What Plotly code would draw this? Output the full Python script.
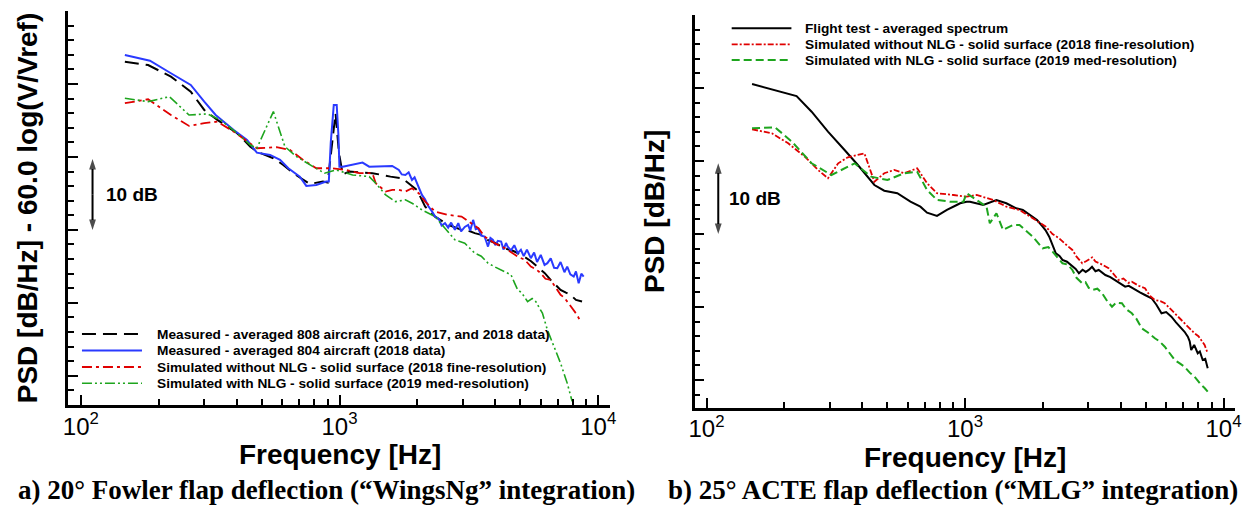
import plotly.graph_objects as go

# ---------------- data: panel a (20 deg Fowler flap) ----------------
a_808_f = [148, 182, 223, 266, 300, 337, 402, 452, 479, 555, 606, 662, 767, 862, 900, 935, 965, 995, 1029,
           1091, 1227, 1340, 1463, 1574, 1746, 1852, 1992, 2143, 2340, 2634, 2962, 3150, 3330, 3532, 3750,
           4000, 4337, 4700, 5172, 5500, 5821, 6200, 6546, 6900, 7149, 7500, 7808, 8200, 8656]
a_808_db = [53.05, 52.6, 51.0, 48.95, 46.44, 45.07, 43.25, 41.41, 40.73, 39.82, 38.9, 37.77, 36.3, 36.62, 36.5,
            42.0, 45.99, 40.5, 37.6, 37.99, 37.85, 37.77, 37.53, 37.3, 37.08, 36.4, 35.48, 33.19, 31.82, 30.68,
            30.0, 29.9, 29.55, 29.32, 28.6, 28.2, 27.49, 27.1, 26.34, 25.7, 24.97, 24.1, 23.15, 22.4, 21.78,
            21.4, 21.1, 20.4, 20.18]

a_804_f = [148, 185, 223, 266, 300, 332, 390, 439, 479, 539, 589, 634, 702, 744, 813, 888, 909, 925, 950, 975,
           990, 999, 1029, 1123, 1227, 1302, 1421, 1507, 1598, 1695, 1740, 1797, 1850, 1906, 1950, 1992, 2040,
           2082, 2140, 2208, 2270, 2340, 2420, 2480, 2556, 2630, 2700, 2792, 2877, 2950, 3048, 3141, 3200,
           3283, 3360, 3431, 3530, 3637, 3700, 3748, 3830, 3916, 4000, 4093, 4213, 4300, 4400, 4467, 4600,
           4737, 4881, 5024, 5150, 5300, 5488, 5650, 5800, 5993, 6200, 6358, 6550, 6750, 6944, 7150, 7400,
           7585, 7800, 8036, 8200, 8400, 8600, 8780]
a_804_db = [53.97, 53.19, 51.47, 49.86, 47.58, 45.75, 43.7, 42.33, 40.59, 40.27, 39.59, 38.45, 37.3, 36.03,
            36.16, 36.62, 36.62, 42.0, 47.12, 47.12, 43.0, 38.67, 38.67, 38.9, 39.22, 38.67, 38.67, 38.77,
            38.77, 38.22, 37.6, 37.53, 37.9, 36.85, 37.2, 36.4, 35.5, 34.79, 34.2, 33.19, 32.6, 31.82, 31.5,
            30.6, 30.92, 30.3, 31.0, 30.0, 30.92, 29.8, 30.4, 30.68, 29.9, 31.37, 30.1, 30.23, 29.2, 29.08,
            28.3, 27.71, 28.9, 28.63, 27.9, 28.5, 28.4, 27.3, 28.2, 27.71, 27.2, 27.9, 26.8, 27.26, 26.4,
            27.3, 26.12, 26.9, 25.6, 26.58, 25.2, 25.44, 26.1, 24.8, 24.75, 25.6, 24.2, 24.97, 23.9, 23.6,
            24.3, 22.7, 24.0, 23.6]

a_sim_nonlg_f = [148, 182, 223, 262, 300, 337, 390, 439, 479, 571, 643, 723, 813, 942, 1056, 1192, 1340, 1380,
                 1507, 1598, 1695, 1797, 1906, 2022, 2143, 2340, 2634, 2962, 3235, 3450, 3637, 3972, 4300,
                 4467, 4881, 5200, 5488, 5750, 5993, 6250, 6546, 6850, 7149, 7400, 7585, 7800, 8036, 8300, 8527]
a_sim_nonlg_db = [47.36, 47.9, 45.75, 44.25, 44.62, 44.84, 43.47, 42.1, 41.19, 41.33, 40.96, 39.59, 38.45,
                  38.45, 38.22, 37.77, 37.77, 36.4, 35.25, 35.48, 35.48, 35.25, 35.71, 35.03, 33.88, 32.51,
                  32.05, 31.82, 30.92, 30.2, 29.08, 28.18, 27.6, 27.26, 26.34, 25.9, 24.97, 24.6, 24.07, 23.3,
                  23.15, 22.0, 21.1, 20.7, 20.18, 19.6, 19.04, 18.3, 17.44]

a_sim_nlg_f = [148, 182, 220, 262, 308, 347, 402, 452, 479, 555, 615, 682, 790, 875, 970, 1123, 1302, 1380,
               1507, 1645, 1797, 1906, 2082, 2340, 2556, 2792, 3048, 3330, 3530, 3748, 4000, 4213, 4400, 4601,
               4750, 4881, 5050, 5330, 5550, 5735, 5900, 6083, 6358, 6740, 7149, 7585, 7925]
a_sim_nlg_db = [48.04, 47.58, 48.26, 45.75, 45.89, 45.07, 43.25, 41.64, 41.19, 46.21, 41.41, 40.04, 38.67,
                37.77, 38.22, 37.53, 37.3, 36.4, 34.79, 33.88, 34.11, 33.66, 32.74, 31.82, 30.23, 28.63,
                28.18, 26.81, 26.4, 25.44, 24.9, 24.52, 24.2, 23.84, 22.7, 21.78, 21.4, 20.18, 20.6, 20.18,
                19.4, 18.59, 16.3, 14.01, 11.74, 9.0, 6.5]

# ---------------- data: panel b (25 deg ACTE flap) ----------------
b_flight_f = [150, 223, 255, 295, 342, 385, 446, 487, 547, 615, 672, 713, 779, 851, 929, 957, 1015, 1045,
              1176, 1323, 1445, 1578, 1674, 1828, 1900, 1997, 2050, 2117, 2180, 2246, 2320, 2382, 2480, 2602,
              2680, 2758, 2850, 2930, 3012, 3100, 3196, 3290, 3400, 3491, 3650, 3813, 3950, 4165, 4300, 4550,
              4750, 4969, 5100, 5270, 5500, 5756, 6000, 6288, 6550, 6867, 7069, 7278, 7400, 7499, 7700, 7950,
              8100, 8308, 8500, 8687]
b_flight_db = [50.55, 48.9, 46.75, 44.01, 41.51, 39.45, 36.71, 35.93, 35.58, 34.42, 33.74, 32.92, 32.47,
               33.29, 33.97, 34.21, 34.42, 34.42, 33.97, 34.66, 34.21, 33.52, 33.29, 32.37, 31.9, 31.0, 30.5,
               29.63, 28.5, 27.36, 27.0, 26.44, 26.2, 25.52, 25.2, 24.62, 25.1, 24.8, 25.07, 25.5, 24.9,
               25.07, 24.7, 24.38, 24.1, 23.7, 23.3, 22.78, 22.9, 22.33, 22.0, 21.64, 21.4, 21.19, 20.3,
               19.14, 19.3, 18.67, 17.9, 17.08, 16.6, 15.93, 15.3, 14.11, 14.8, 13.66, 13.9, 12.74, 12.9, 11.6]

b_sim_nonlg_f = [150, 179, 207, 240, 270, 295, 323, 352, 408, 446, 487, 532, 581, 653, 713, 779, 903, 1015,
                 1109, 1285, 1445, 1625, 1828, 1950, 2056, 2180, 2312, 2450, 2602, 2700, 2842, 2950, 3105,
                 3196, 3350, 3594, 3750, 3926, 4100, 4289, 4419, 4700, 4969, 5200, 5426, 5700, 5927, 6200,
                 6473, 6800, 7069, 7400, 7721, 8000, 8192, 8450, 8687]
b_sim_nonlg_db = [44.34, 43.79, 42.42, 40.59, 38.77, 37.63, 39.68, 40.51, 41.05, 37.16, 38.32, 38.77, 38.32,
                  39.0, 36.95, 35.58, 35.34, 35.11, 35.34, 34.66, 33.74, 33.29, 32.15, 31.5, 31.0, 30.0,
                  29.41, 28.6, 27.81, 26.9, 25.99, 26.3, 26.8, 26.21, 25.9, 25.3, 24.5, 23.7, 23.9, 23.3,
                  23.47, 22.9, 22.56, 21.5, 20.96, 20.8, 20.51, 19.8, 19.14, 18.4, 17.77, 17.0, 16.4, 16.0,
                  15.48, 14.8, 13.66]

b_sim_nlg_f = [150, 184, 214, 255, 304, 374, 433, 501, 581, 653, 713, 779, 876, 986, 1015, 1109, 1211, 1247,
               1323, 1403, 1532, 1625, 1828, 1997, 2100, 2181, 2300, 2382, 2500, 2602, 2700, 2842, 2926, 3012,
               3105, 3250, 3390, 3550, 3704, 3850, 4046, 4200, 4419, 4600, 4826, 5100, 5426, 5650, 5927, 6200,
               6473, 6750, 7069, 7400, 7721, 7950, 8192, 8450, 8687]
b_sim_nlg_db = [44.48, 44.62, 42.64, 39.68, 38.08, 39.68, 37.85, 37.4, 38.32, 38.53, 36.03, 34.66, 34.42,
                34.42, 35.58, 34.66, 33.74, 31.47, 32.84, 30.55, 31.23, 31.23, 29.63, 28.04, 28.2, 27.58,
                26.6, 25.99, 25.8, 25.07, 24.0, 23.25, 23.4, 22.6, 22.33, 22.5, 21.88, 20.8, 20.04, 20.6,
                20.51, 19.7, 19.14, 18.4, 17.08, 16.5, 15.71, 15.3, 14.56, 13.6, 12.74, 12.3, 11.82, 11.0,
                10.45, 9.9, 9.32, 8.9, 8.4]

# 10 dB scale bar: centre -> bottom tip, gap, centre -> top tip
scale_f = [111, 111, None, 111, 111]
scale_db = [34.8, 30.0, None, 34.8, 39.7]

a_labels = ["Measured - averaged 808 aircraft (2016, 2017, and 2018 data)",
            "Measured - averaged 804 aircraft (2018 data)",
            "Simulated without NLG - solid surface (2018 fine-resolution)",
            "Simulated with NLG - solid surface (2019 med-resolution)"]
b_labels = ["Flight test - averaged spectrum",
            "Simulated without NLG - solid surface (2018 fine-resolution)",
            "Simulated with NLG - solid surface (2019 med-resolution)"]
x_tickvals = [100, 1000, 10000]
x_ticktext = ["10<sup>2</sup>", "10<sup>3</sup>", "10<sup>4</sup>"]
x_title = "Frequency [Hz]"
y_titles = ["PSD [dB/Hz] - 60.0 log(V/Vref)", "PSD [dB/Hz]"]
captions = ["a) 20\u00b0 Fowler flap deflection (\u201cWingsNg\u201d integration)",
            "b) 25\u00b0 ACTE flap deflection (\u201cMLG\u201d integration)"]

BLACK, BLUE, RED, GREEN = "#000000", "#2a3aff", "#e00000", "#1ea51e"
SANS = "Liberation Sans, Arial, sans-serif"
SERIF = "Liberation Serif, Times New Roman, serif"

a_styles = [(BLACK, "14px,7px", 2.0), (BLUE, "solid", 2.0),
            (RED, "10px,4px,3px,4px", 1.8), (GREEN, "10px,3px,2px,3px,2px,3px", 1.6)]
b_styles = [(BLACK, "solid", 2.0), (RED, "6px,2px,2px,2px", 1.8), (GREEN, "8px,4px", 2.0)]

fig = go.Figure()
a_series = [(a_808_f, a_808_db), (a_804_f, a_804_db), (a_sim_nonlg_f, a_sim_nonlg_db), (a_sim_nlg_f, a_sim_nlg_db)]
b_series = [(b_flight_f, b_flight_db), (b_sim_nonlg_f, b_sim_nonlg_db), (b_sim_nlg_f, b_sim_nlg_db)]

for (f, d), lab, (c, dash, w) in zip(a_series, a_labels, a_styles):
    fig.add_trace(go.Scatter(x=f, y=d, mode="lines", name=lab, showlegend=False,
                             line=dict(color=c, dash=dash, width=w), xaxis="x", yaxis="y"))
for (f, d), lab, (c, dash, w) in zip(b_series, b_labels, b_styles):
    fig.add_trace(go.Scatter(x=f, y=d, mode="lines", name=lab, showlegend=False,
                             line=dict(color=c, dash=dash, width=w), xaxis="x2", yaxis="y2"))

# 10 dB double-headed scale arrows
for xa, ya in [("x", "y"), ("x2", "y2")]:
    fig.add_trace(go.Scatter(x=scale_f, y=scale_db, mode="lines+markers", showlegend=False, hoverinfo="skip",
                             connectgaps=False, line=dict(color="black", width=2),
                             marker=dict(symbol="arrow", angleref="previous", size=[0, 11, 0, 0, 11],
                                         color="black", line=dict(width=0)),
                             xaxis=xa, yaxis=ya))

W, H = 1255, 510


def px(x):
    return x / W


def py(y):
    return (H - y) / H


xax = dict(type="log", showline=True, linecolor="black", linewidth=2.5, ticks="inside", ticklen=10,
           tickwidth=2, tickcolor="black", tickvals=x_tickvals, ticktext=x_ticktext, ticklabelstandoff=-2,
           tickfont=dict(family=SANS, size=24, color="black"), showgrid=False, zeroline=False,
           minor=dict(ticks="inside", ticklen=6, tickwidth=1.5, tickcolor="black", dtick="D1", showgrid=False))
yax = dict(showline=True, linecolor="black", linewidth=2.5, ticks="inside", ticklen=10, tickwidth=2,
           tickcolor="black", tick0=0, dtick=10, showticklabels=False, showgrid=False, zeroline=False,
           minor=dict(ticks="inside", ticklen=6, tickwidth=1.5, tickcolor="black", dtick=2, showgrid=False))

fig.update_layout(
    width=W, height=H, margin=dict(l=0, r=0, t=0, b=0),
    paper_bgcolor="white", plot_bgcolor="white", showlegend=False,
    xaxis=dict(xax, domain=[px(63), px(610)], range=[1.952, 4.046], anchor="y"),
    yaxis=dict(yax, domain=[py(405), py(11)], range=[6, 60], anchor="x",
               title=dict(text="<b>%s</b>" % y_titles[0],
                          font=dict(family=SANS, size=28, color="black"), standoff=20)),
    xaxis2=dict(xax, domain=[px(695.3), px(1241)], range=[1.954, 4.045], anchor="y2"),
    yaxis2=dict(yax, domain=[py(407.7), py(15)], range=[6.2, 60], anchor="x2",
                title=dict(text="<b>%s</b>" % y_titles[1], font=dict(family=SANS, size=28, color="black"),
                           standoff=20)),
)

annotations = []
shapes = []
# 10 dB labels
for xr, yr, xt in [("x domain", "y", 0.065), ("x2 domain", "y2", 0.060)]:
    annotations.append(dict(x=xt, y=34.8, xref=xr, yref=yr, text="<b>10 dB</b>", showarrow=False,
                            xanchor="left", yanchor="middle", font=dict(family=SANS, size=19, color="black")))

# x-axis titles
for xc, yc in [(337, 454), (968, 457)]:
    annotations.append(dict(x=px(xc), y=py(yc), xref="paper", yref="paper", text="<b>%s</b>" % x_title,
                            showarrow=False, xanchor="center", yanchor="middle",
                            font=dict(family=SANS, size=28, color="black")))

# legends (drawn manually to reproduce long line samples and tight row spacing)
for lab, (c, dash, w), yrow in zip(a_labels, a_styles, [334, 350.5, 367, 383.3]):
    shapes.append(dict(type="line", xref="paper", yref="paper", x0=px(76.7), x1=px(137.3), y0=py(yrow),
                       y1=py(yrow), line=dict(color=c, dash=dash, width=w)))
    annotations.append(dict(x=px(150), y=py(yrow), xref="paper", yref="paper", text="<b>%s</b>" % lab,
                            showarrow=False, xanchor="left", yanchor="middle",
                            font=dict(family=SANS, size=13.7, color="black")))
for lab, (c, dash, w), yrow in zip(b_labels, b_styles, [28.3, 44.3, 60]):
    shapes.append(dict(type="line", xref="paper", yref="paper", x0=px(732.7), x1=px(793), y0=py(yrow),
                       y1=py(yrow), line=dict(color=c, dash=dash, width=w)))
    annotations.append(dict(x=px(805), y=py(yrow), xref="paper", yref="paper", text="<b>%s</b>" % lab,
                            showarrow=False, xanchor="left", yanchor="middle",
                            font=dict(family=SANS, size=13.7, color="black")))

# captions
for cap, xc in zip(captions, [324, 956]):
    annotations.append(dict(x=px(xc), y=py(490), xref="paper", yref="paper", text="<b>%s</b>" % cap,
                            showarrow=False, xanchor="center", yanchor="middle",
                            font=dict(family=SERIF, size=27, color="black")))

fig.update_layout(annotations=annotations, shapes=shapes)
fig.write_html("out.html")
